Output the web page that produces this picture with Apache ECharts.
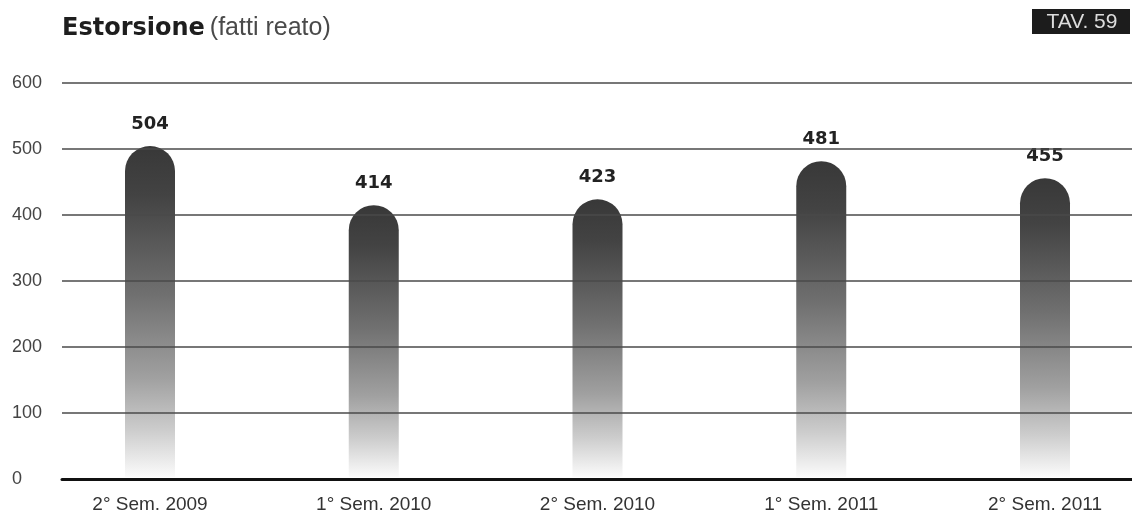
<!DOCTYPE html>
<html>
<head>
<meta charset="utf-8">
<script src="https://cdn.jsdelivr.net/npm/echarts@6/dist/echarts.min.js"></script>
<style>
html,body{margin:0;padding:0;background:#fff;}
#c{width:1132px;height:514px;}
</style>
</head>
<body>
<div id="c"></div>
<script>
const categories = ['2° Sem. 2009', '1° Sem. 2010', '2° Sem. 2010', '1° Sem. 2011', '2° Sem. 2011'];
const values = [504, 414, 423, 481, 455];
const yTicks = [0, 100, 200, 300, 400, 500, 600];

const chart = echarts.init(document.getElementById('c'), null, {renderer: 'canvas'});
const barGradient = new echarts.graphic.LinearGradient(0, 0, 0, 1, [
  {offset: 0, color: '#383838'},
  {offset: 0.15, color: '#434343'},
  {offset: 0.45, color: '#707070'},
  {offset: 0.7, color: '#a0a0a0'},
  {offset: 0.86, color: '#cdcdcd'},
  {offset: 1, color: '#fbfbfb'}
]);

chart.setOption({
  animation: false,
  backgroundColor: '#fff',
  title: {
    left: 57, top: 11,
    text: '{b|Estorsione} {n|(fatti reato)}',
    textStyle: {
      rich: {
        b: {fontFamily: 'DejaVu Sans', fontWeight: 'bold', fontSize: 24, color: '#1e1e1e'},
        n: {fontFamily: 'Liberation Sans', fontWeight: 'normal', fontSize: 25, color: '#4a4a4a'}
      }
    }
  },
  graphic: [{
    type: 'group', right: 2, top: 9,
    children: [
      {type: 'rect', shape: {x: 0, y: 0, width: 98, height: 25}, style: {fill: '#1c1c1c'}},
      {type: 'text', x: 50, y: 13, style: {text: 'TAV. 59', fill: '#dcdcdc', font: '21px "Liberation Sans"', align: 'center', verticalAlign: 'middle'}}
    ]
  }],
  grid: [
    {left: 62, right: 0, top: 83, bottom: 35},
    {left: 150, right: 87, top: 83, bottom: 35}
  ],
  xAxis: [
    {gridIndex: 0, type: 'category', data: categories, axisLine: {show: true, lineStyle: {color: '#111', width: 3}},
     axisTick: {show: false}, axisLabel: {show: false}, z: 6},
    {gridIndex: 1, type: 'category', data: categories, boundaryGap: false, axisLine: {show: false}, axisTick: {show: false},
     axisLabel: {show: true, margin: 18, fontSize: 19, fontFamily: 'Liberation Sans', color: '#333'}}
  ],
  yAxis: [
    {gridIndex: 0, type: 'value', min: yTicks[0], max: yTicks[yTicks.length - 1], interval: 100, z: 5,
     axisLine: {show: false}, axisTick: {show: false},
     axisLabel: {align: 'left', margin: 50, fontSize: 18, fontFamily: 'Liberation Sans', color: '#444'},
     splitLine: {show: true, lineStyle: {color: '#4a4a4a', width: 1.5}}},
    {gridIndex: 1, type: 'value', min: yTicks[0], max: yTicks[yTicks.length - 1], interval: 100, show: false,
     splitLine: {show: false}}
  ],
  series: [{
    type: 'bar', xAxisIndex: 1, yAxisIndex: 1, data: values, barWidth: 50, z: 1, clip: false,
    itemStyle: {color: barGradient, borderRadius: [25, 25, 0, 0]},
    label: {show: true, position: 'top', distance: 13, fontFamily: 'DejaVu Sans', fontWeight: 'bold', fontSize: 18, color: '#222'}
  }]
});
</script>
</body>
</html>
